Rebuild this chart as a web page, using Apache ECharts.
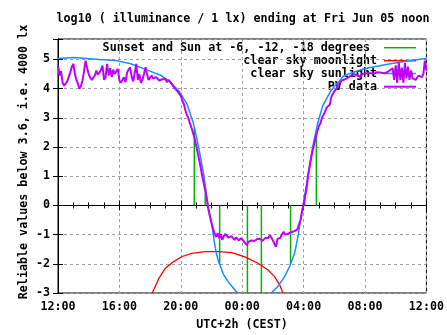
<!DOCTYPE html>
<html>
<head>
<meta charset="utf-8">
<script src="https://cdn.jsdelivr.net/npm/echarts@6/dist/echarts.min.js"></script>
<style>
html,body{margin:0;padding:0;background:#fff;}
#chart{width:447px;height:335px;}
</style>
</head>
<body>
<div id="chart"></div>
<script>
// ---- data (x in hours since 12:00 on the first day) ----
const titleText = "log10 ( illuminance / 1 lx) ending at Fri Jun 05 noon";
const yAxisTitle = "Reliable values below 3.6, i.e. 4000 lx";
const xAxisTitle = "UTC+2h (CEST)";
const legendNames = ["Sunset and Sun at -6, -12, -18 degrees", "clear sky moonlight", "clear sky sunlight", "PV data"];

// sunset / twilight markers: vertical segments from 0 to the given level
const twilightHours = [8.88, 9.59, 10.53, 12.34, 13.25, 15.15, 16.07, 16.83];
const twilightTops  = [2.66, 0.41, -2.0, -3.0, -3.0, -2.0, 0.41, 2.48];

// clear sky moonlight
const moonHours  = [6.14, 6.57, 7.0, 7.43, 8.08, 8.72, 9.59, 10.45, 11.31, 12.17, 13.03, 13.68, 14.11, 14.44, 14.65];
const moonValues = [-3.0, -2.5, -2.15, -1.96, -1.75, -1.64, -1.58, -1.58, -1.62, -1.76, -1.98, -2.21, -2.44, -2.72, -3.0];

// clear sky sunlight (evening branch, then morning branch)
const sunEveHours  = [0, 1.08, 2.69, 3.77, 4.74, 6.04, 6.68, 7.33, 7.86, 8.40, 8.83, 9.16, 9.48, 9.80, 10.02, 10.18, 10.34, 10.45, 10.77, 11.09, 11.53, 11.70];
const sunEveValues = [5.03, 5.07, 5.0, 4.96, 4.85, 4.59, 4.46, 4.22, 3.93, 3.48, 2.8, 2.0, 1.09, -0.1, -0.65, -1.25, -1.7, -1.9, -2.35, -2.62, -2.9, -3.0];
const sunMornHours  = [13.89, 14.32, 14.76, 15.08, 15.41, 15.62, 15.83, 16.05, 16.26, 16.59, 16.91, 17.24, 17.77, 18.64, 19.93, 21.65, 22.94, 24];
const sunMornValues = [-3.0, -2.78, -2.44, -2.1, -1.64, -1.1, -0.4, 0.25, 0.95, 2.0, 2.8, 3.4, 3.93, 4.45, 4.68, 4.85, 4.96, 5.03];

// PV data, one reading every 0.1 h starting at 12:00
const pvStepHours = 0.1;
const pvValues = [
 4.8, 4.45, 4.6, 4.2, 4.1, 4.15, 4.25, 4.4, 4.55, 4.75,
 4.85, 4.5, 4.3, 4.16, 4.0, 4.1, 4.28, 4.6, 4.96, 4.7,
 4.5, 4.38, 4.3, 4.28, 4.45, 4.62, 4.48, 4.55, 4.65, 4.79,
 4.3, 4.4, 4.85, 4.45, 4.7, 4.4, 4.65, 4.5, 4.55, 4.68,
 4.28, 4.2, 4.3, 4.39, 4.22, 4.55, 4.65, 4.73, 4.4, 4.25,
 4.2, 4.85, 4.3, 4.5, 4.2, 4.3, 4.5, 4.73, 4.5, 4.3,
 4.35, 4.45, 4.35, 4.3, 4.39, 4.33, 4.28, 4.25, 4.32, 4.35,
 4.33, 4.22, 4.3, 4.25, 4.16, 4.1, 4.02, 3.96, 3.9, 3.82,
 3.75, 3.6, 3.47, 3.25, 3.1, 2.98, 2.8, 2.65, 2.47, 2.3,
 2.05, 1.8, 1.55, 1.28, 1.0, 0.75, 0.48, 0.2, -0.15, -0.38,
 -0.6, -0.8, -0.97, -1.08, -0.95, -1.12, -0.98, -1.18, -1.05, -0.98,
 -0.95, -1.1, -1.15, -1.05, -1.1, -1.18, -1.1, -1.12, -1.2, -1.12,
 -1.18, -1.22, -1.28, -1.36, -1.25, -1.3, -1.2, -1.15, -1.22, -1.18,
 -1.14, -1.08, -1.15, -1.22, -1.2, -1.12, -1.08, -1.12, -1.02, -1.1,
 -1.2, -1.32, -1.42, -1.15, -1.12, -1.1, -0.98, -0.9, -1.0, -0.95,
 -0.97, -0.94, -0.92, -0.9, -0.88, -0.85, -0.82, -0.65, -0.5, -0.2,
 0.05, 0.3, 0.6, 1.05, 1.35, 1.65, 1.9, 2.12, 2.35, 2.55,
 2.72, 2.82, 3.0, 3.1, 3.22, 3.35, 3.4, 3.45, 3.7, 3.82,
 3.9, 3.93, 4.05, 4.16, 4.2, 4.28, 4.3, 4.32, 4.33, 4.38,
 4.42, 4.45, 4.47, 4.5, 4.5, 4.45, 4.42, 4.39, 4.5, 4.56,
 4.52, 4.5, 4.53, 4.56, 4.53, 4.5, 4.52, 4.56, 4.56, 4.55,
 4.55, 4.54, 4.53, 4.56, 4.55, 4.6, 4.62, 4.64, 4.7, 4.3,
 4.8, 4.2, 4.9, 4.3, 4.72, 4.2, 4.88, 4.35, 4.75, 4.3,
 4.62, 4.35, 4.3, 4.3, 4.38, 4.45, 4.48, 4.39, 4.5, 4.96,
 4.62
];

const xTickStartHour = 12; // clock hour at x = 0

// ---- build series data ----
const twilightData = [];
twilightHours.forEach((h, i) => {
  twilightData.push([h, 0], [h, twilightTops[i]], [h, '-']);
});
const moonData = moonHours.map((h, i) => [h, moonValues[i]]);
const sunData = sunEveHours.map((h, i) => [h, sunEveValues[i]])
  .concat([[(sunEveHours[sunEveHours.length - 1] + sunMornHours[0]) / 2, '-']])
  .concat(sunMornHours.map((h, i) => [h, sunMornValues[i]]));
const pvData = pvValues.map((v, i) => [+(i * pvStepHours).toFixed(2), v]);

const FONT = '"DejaVu Sans Mono", "Liberation Mono", monospace';
const FS = 11.7;
const COLORS = { green: '#00b400', red: '#ff0000', blue: '#1a8cff', purple: '#c000ff' };

const chart = echarts.init(document.getElementById('chart'), null, { renderer: 'canvas' });

const gridLine = { show: true, lineStyle: { color: '#a0a0a0', type: [3, 3], width: 1 } };
const labelStyle = { fontFamily: FONT, fontSize: FS, fontWeight: 'bold', color: '#000' };

function legendText(txt, x, y) {
  return { type: 'text', x: x, y: y, z: 0, style: { text: txt, fill: '#000', font: 'bold ' + FS + 'px ' + FONT, textAlign: 'right', textVerticalAlign: 'middle' } };
}
function legendLine(color, y, w) {
  return { type: 'line', z: 0, shape: { x1: 384, y1: y, x2: 416, y2: y }, style: { stroke: color, lineWidth: w } };
}

chart.setOption({
  animation: false,
  backgroundColor: '#fff',
  grid: { left: 58, right: 17, top: 39, bottom: 42, show: true, borderColor: '#000', borderWidth: 1, backgroundColor: 'transparent' },
  xAxis: [{
    type: 'value', min: 0, max: 24, interval: 4, position: 'bottom',
    axisLine: { show: true, lineStyle: { color: '#000', width: 1 } },
    axisTick: { show: true, inside: true, length: 5, lineStyle: { color: '#000' } },
    minorTick: { show: true, splitNumber: 4, length: 3, lineStyle: { color: '#000' } },
    splitLine: gridLine,
    axisLabel: Object.assign({ margin: 8, formatter: v => String((xTickStartHour + v) % 24).padStart(2, '0') + ':00' }, labelStyle)
  }, {
    type: 'value', min: 0, max: 24, interval: 4, position: 'top',
    axisLine: { show: true, lineStyle: { color: '#000', width: 1 } },
    axisTick: { show: true, inside: true, length: 5, lineStyle: { color: '#000' } },
    minorTick: { show: true, splitNumber: 4, length: 3, lineStyle: { color: '#000' } },
    splitLine: { show: false }, axisLabel: { show: false }
  }],
  yAxis: [{
    type: 'value', min: -3, max: 5.7, interval: 1, position: 'left',
    axisLine: { show: true, lineStyle: { color: '#000', width: 1 } },
    axisTick: { show: true, inside: true, length: 5, lineStyle: { color: '#000' } },
    splitLine: gridLine,
    axisLabel: Object.assign({ margin: 8, formatter: v => Number.isInteger(v) ? String(v) : '' }, labelStyle)
  }, {
    type: 'value', min: -3, max: 5.7, interval: 1, position: 'right',
    axisLine: { show: true, lineStyle: { color: '#000', width: 1 } },
    axisTick: { show: true, inside: true, length: 5, lineStyle: { color: '#000' } },
    splitLine: { show: false }, axisLabel: { show: false }
  }],
  graphic: [
    { type: 'text', x: 243, y: 19, style: { text: titleText, fill: '#000', font: 'bold ' + FS + 'px ' + FONT, textAlign: 'center', textVerticalAlign: 'middle' } },
    { type: 'text', x: 242, y: 325, style: { text: xAxisTitle, fill: '#000', font: 'bold ' + FS + 'px ' + FONT, textAlign: 'center', textVerticalAlign: 'middle' } },
    { type: 'text', x: 24, y: 162, rotation: Math.PI / 2, style: { text: yAxisTitle, fill: '#000', font: 'bold ' + FS + 'px ' + FONT, textAlign: 'center', textVerticalAlign: 'middle' } },
    legendText(legendNames[0], 370, 48),
    legendText(legendNames[1], 377, 61),
    legendText(legendNames[2], 377, 74),
    legendText(legendNames[3], 377, 87),
    legendLine(COLORS.green, 47.7, 1.5),
    legendLine(COLORS.red, 60.7, 1.5),
    legendLine(COLORS.blue, 73.5, 1.5),
    legendLine(COLORS.purple, 86.7, 2)
  ],
  series: [
    { name: legendNames[0], type: 'line', data: twilightData, showSymbol: false, connectNulls: false, lineStyle: { color: COLORS.green, width: 1.5 }, z: 3 },
    { name: legendNames[1], type: 'line', data: moonData, showSymbol: false, lineStyle: { color: COLORS.red, width: 1.3 }, z: 3 },
    { name: legendNames[2], type: 'line', data: sunData, showSymbol: false, connectNulls: false, lineStyle: { color: COLORS.blue, width: 1.5 }, z: 4 },
    { name: legendNames[3], type: 'line', data: pvData, showSymbol: false, lineStyle: { color: COLORS.purple, width: 2 }, z: 5 }
  ]
});
</script>
</body>
</html>
